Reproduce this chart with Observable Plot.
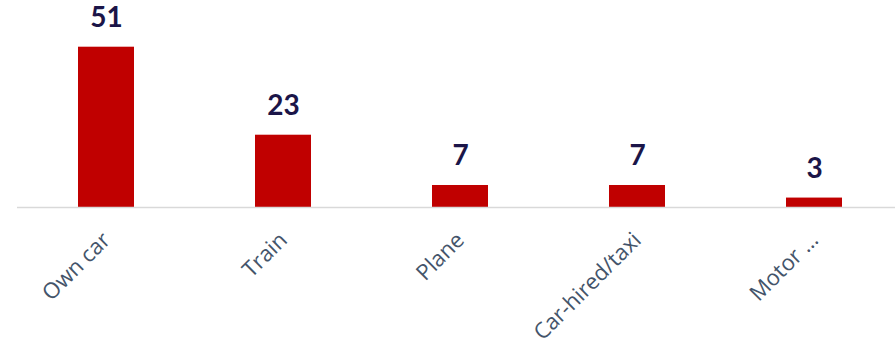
<!DOCTYPE html>
<html>
<head>
<meta charset="utf-8">
<script src="https://cdn.jsdelivr.net/npm/d3@7"></script>
<script src="https://cdn.jsdelivr.net/npm/@observablehq/plot@0.6"></script>
<style>
  html, body { margin: 0; padding: 0; background: #fff; }
  #chart svg { display: block; }
</style>
</head>
<body>
<div id="chart"></div>
<script>
const categories = ["Own car", "Train", "Plane", "Car-hired/taxi", "Motor …"];
const values = [51, 23, 7, 7, 3];

const data = categories.map((c, i) => ({category: c, value: values[i]}));

const chart = Plot.plot({
  width: 895,
  height: 349,
  marginLeft: 17,
  marginRight: 0,
  marginTop: 46.7,
  marginBottom: 142,
  style: {fontFamily: "Open Sans, Noto Sans, sans-serif", background: "#fff"},
  x: {domain: categories, range: [17.5, 902.5], paddingInner: 0.686, paddingOuter: 0.343, label: null, axis: null},
  y: {domain: [0, 51], axis: null},
  marks: [
    Plot.barY(data, {x: "category", y: "value", fill: "#C00000"}),
    Plot.ruleY([0], {stroke: "#D9D9D9", strokeWidth: 1.5}),
    Plot.text(data, {
      x: "category", y: "value", text: d => String(d.value),
      dy: -20, lineAnchor: "bottom", textAnchor: "middle",
      fontFamily: "Lato, sans-serif", fontWeight: "bold", fontSize: 28, fill: "#1B1548"
    }),
    Plot.text(data, {
      x: "category", frameAnchor: "bottom", text: "category",
      rotate: -45, textAnchor: "end", lineAnchor: "bottom",
      dx: 5, dy: 34,
      fontFamily: "Open Sans, Noto Sans, sans-serif", fontSize: 22, fill: "#44546A"
    })
  ]
});
document.getElementById("chart").appendChild(chart);
</script>
</body>
</html>
